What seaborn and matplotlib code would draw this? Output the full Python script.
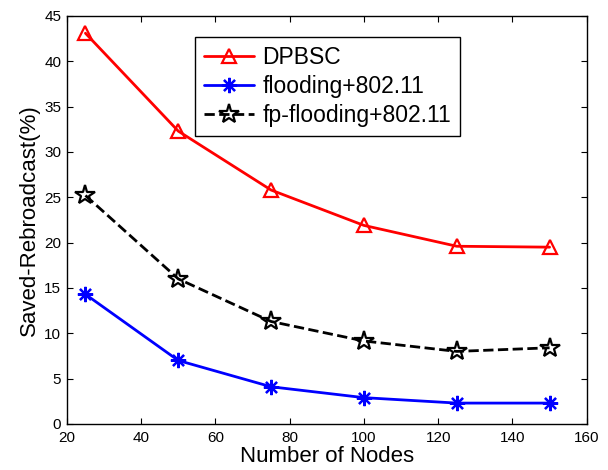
import numpy as np
import pandas as pd
import matplotlib
matplotlib.use("Agg")
import matplotlib.pyplot as plt
import seaborn as sns

# datos
nodos = [25, 50, 75, 100, 125, 150]
dpbsc = [43.1, 32.3, 25.8, 21.9, 19.6, 19.5]
flooding = [14.3, 7.0, 4.1, 2.9, 2.3, 2.3]
fp_flooding = [25.2, 16.0, 11.3, 9.15, 8.0, 8.4]

sns.set_style("ticks")
plt.rcParams['font.family'] = ['Liberation Sans', 'DejaVu Sans']
plt.rcParams['text.color'] = 'black'

fig = plt.figure(figsize=(6.08, 4.70), dpi=100)
ax = fig.add_axes([0.110, 0.098, 0.855, 0.868])

sns.lineplot(x=nodos, y=dpbsc, ax=ax, color='red', marker='^', markersize=10,
             mfc='none', mec='red', mew=1.6, linewidth=2, label='DPBSC')
sns.lineplot(x=nodos, y=flooding, ax=ax, color='blue', marker=(8, 2, 0), markersize=11,
             mec='blue', mew=1.6, linewidth=2, label='flooding+802.11')
sns.lineplot(x=nodos, y=fp_flooding, ax=ax, color='black', marker='*', markersize=15,
             mfc='none', mec='black', mew=1.6, linewidth=2, linestyle='--',
             label='fp-flooding+802.11')

ax.set_xlim(20, 160)
ax.set_ylim(0, 45)
ax.set_xticks(np.arange(20, 161, 20))
ax.set_yticks(np.arange(0, 46, 5))
ax.tick_params(direction='in', top=True, right=True, labelsize=11, length=4,
               color='black', labelcolor='black')
ax.tick_params(axis='x', pad=5)
ax.tick_params(axis='y', pad=4)
for s in ax.spines.values():
    s.set_linewidth(1.0)
    s.set_color('black')

ax.set_xlabel('Number of Nodes', fontsize=16, labelpad=1, color='black')
ax.set_ylabel('Saved-Rebroadcast(%)', fontsize=16, labelpad=3, color='black')

leg = ax.legend(loc='upper left', bbox_to_anchor=(0.246, 0.948), fontsize=16.5,
                frameon=True, fancybox=False, edgecolor='black', framealpha=1,
                handlelength=2.2, handletextpad=0.35, borderpad=0.4, labelspacing=0.25,
                borderaxespad=0)
leg.get_frame().set_linewidth(1.0)

fig.savefig('out.png', dpi=100)
